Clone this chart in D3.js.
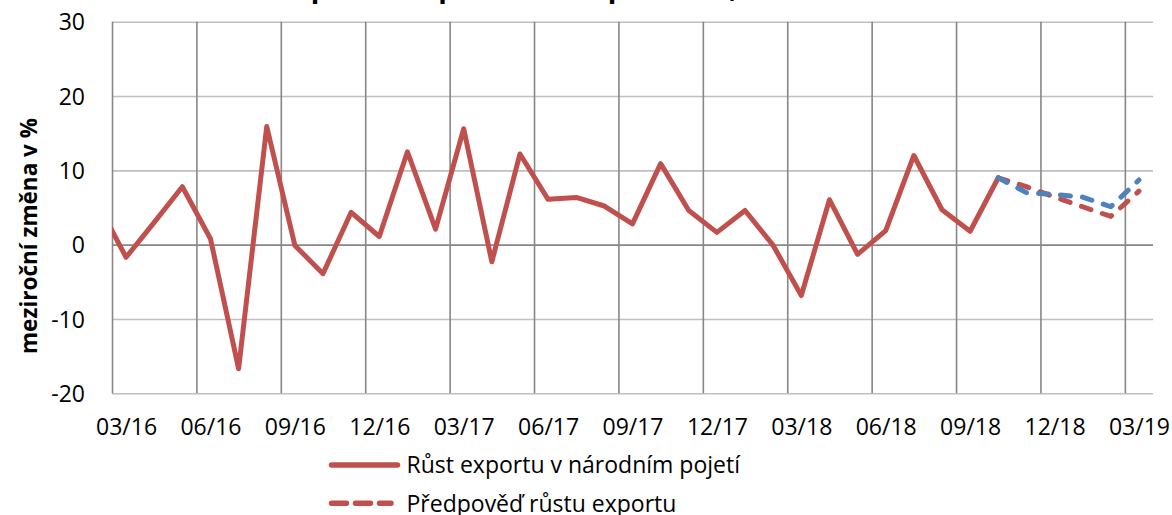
<!DOCTYPE html>
<meta charset="utf-8">
<style>
    html, body {
        margin: 0;
        padding: 0;
        background: #fff;
    }
    svg text {
        font-family: "Open Sans", sans-serif;
        fill: #000;
    }
</style>
<body>
<script src="https://cdn.jsdelivr.net/npm/d3@7"></script>
<script>
  // months from 02/16 (clipped off the left edge) up to 03/19
  var months = ["02/16", "03/16", "04/16", "05/16", "06/16", "07/16", "08/16", "09/16", "10/16", "11/16", "12/16",
    "01/17", "02/17", "03/17", "04/17", "05/17", "06/17", "07/17", "08/17", "09/17", "10/17", "11/17", "12/17",
    "01/18", "02/18", "03/18", "04/18", "05/18", "06/18", "07/18", "08/18", "09/18", "10/18", "11/18", "12/18",
    "01/19", "02/19", "03/19"];

  // Růst exportu v národním pojetí, 02/16 .. 10/18
  var exportGrowth = [5.5, -1.7, 3.0, 7.8, 0.8, -16.7, 15.9, -0.1, -3.9, 4.35, 1.1,
    12.5, 2.1, 15.6, -2.3, 12.2, 6.1, 6.35, 5.2, 2.8, 10.9, 4.6, 1.65,
    4.6, -0.1, -6.85, 6.05, -1.3, 1.9, 12.0, 4.7, 1.8, 9.0];

  // forecasts, 10/18 .. 03/19
  var forecastStart = 32;
  var forecastRed = [9.0, 7.8, 6.4, 5.1, 3.8, 7.2];
  var forecastBlue = [9.0, 7.0, 6.75, 6.4, 5.1, 8.7];

  var yTicks = [-20, -10, 0, 10, 20, 30];
  var legendLabels = ["Růst exportu v národním pojetí", "Předpověď růstu exportu"];

  var W = 1172, H = 515;
  var pLeft = 112, pRight = 1153, pTop = 21.7, pBottom = 393.3;
  var red = "#c0504d", blue = "#4f81bd";

  var svg = d3.select("body").append("svg")
    .attr("width", W)
    .attr("height", H);

  var x = d3.scaleLinear().domain([0.5, months.length - 0.5]).range([pLeft, pRight]);
  var y = d3.scaleLinear().domain([-20, 30]).range([pBottom, pTop]);

  // title, mostly above the visible area
  svg.append("text")
    .attr("x", 279)
    .attr("y", -3.5)
    .style("font-weight", "bold")
    .style("font-size", "28px")
    .text("Export a import zboží a predikce, meziročně");

  // horizontal gridlines + y labels
  var yAxis = svg.append("g")
    .attr("transform", "translate(" + pLeft + ",0)")
    .call(d3.axisLeft(y).tickValues(yTicks).tickSize(-(pRight - pLeft)).tickPadding(27)
      .tickFormat(function (d) { return String(d); }));
  yAxis.select(".domain").remove();
  yAxis.selectAll(".tick line")
    .attr("stroke", function (d) { return d === 0 ? "#878787" : "#bfbfbf"; })
    .attr("stroke-width", 1.6);
  yAxis.selectAll(".tick text")
    .style("font-size", "23px")
    .attr("dy", "0.35em");

  // vertical gridlines at quarter starts
  var quarterStarts = d3.range(0.5, months.length - 1, 3);
  var xGrid = svg.append("g")
    .attr("transform", "translate(0," + pBottom + ")")
    .call(d3.axisBottom(x).tickValues(quarterStarts).tickSize(-(pBottom - pTop)).tickFormat(""));
  xGrid.select(".domain").remove();
  xGrid.selectAll(".tick line")
    .attr("stroke", "#878787")
    .attr("stroke-width", 1.6);

  // x labels
  var labelIdx = d3.range(1, months.length, 3);
  var xAxis = svg.append("g")
    .attr("transform", "translate(0," + pBottom + ")")
    .call(d3.axisBottom(x).tickValues(labelIdx).tickSize(0).tickPadding(25.5)
      .tickFormat(function (i) { return months[i]; }));
  xAxis.select(".domain").remove();
  xAxis.selectAll(".tick text").style("font-size", "23px");

  // lines
  svg.append("clipPath").attr("id", "plotClip")
    .append("rect")
    .attr("x", pLeft).attr("y", 0)
    .attr("width", pRight - pLeft).attr("height", H);

  var line = d3.line()
    .x(function (d) { return x(d[0]); })
    .y(function (d) { return y(d[1]); });

  var plot = svg.append("g").attr("clip-path", "url(#plotClip)");

  plot.append("path")
    .datum(exportGrowth.map(function (v, i) { return [i, v]; }))
    .attr("d", line)
    .attr("fill", "none")
    .attr("stroke", red)
    .attr("stroke-width", 5)
    .attr("stroke-linejoin", "round")
    .attr("stroke-linecap", "round");

  plot.append("path")
    .datum(forecastRed.map(function (v, i) { return [forecastStart + i, v]; }))
    .attr("d", line)
    .attr("fill", "none")
    .attr("stroke", red)
    .attr("stroke-width", 5)
    .attr("stroke-dasharray", "10,12")
    .attr("stroke-linejoin", "round")
    .attr("stroke-linecap", "round");

  plot.append("path")
    .datum(forecastBlue.map(function (v, i) { return [forecastStart + i, v]; }))
    .attr("d", line)
    .attr("fill", "none")
    .attr("stroke", blue)
    .attr("stroke-width", 5)
    .attr("stroke-dasharray", "10,12")
    .attr("stroke-linejoin", "round")
    .attr("stroke-linecap", "round");

  // legend
  var legend = svg.append("g");
  var legendY = [465, 503.3];
  legendLabels.forEach(function (label, i) {
    legend.append("line")
      .attr("x1", 331.5).attr("x2", i === 0 ? 397.5 : 391)
      .attr("y1", legendY[i]).attr("y2", legendY[i])
      .attr("stroke", red)
      .attr("stroke-width", 5.5)
      .attr("stroke-linecap", "round")
      .attr("stroke-dasharray", i === 0 ? null : "15,9");
    legend.append("text")
      .attr("x", 406.5)
      .attr("y", legendY[i])
      .attr("dy", "0.36em")
      .style("font-size", "23px")
      .text(label);
  });

  // y axis title
  svg.append("text")
    .attr("transform", "translate(36.5,236) rotate(-90)")
    .attr("text-anchor", "middle")
    .style("font-weight", "bold")
    .style("font-size", "22.5px")
    .text("meziroční změna v %");
</script>
</body>
